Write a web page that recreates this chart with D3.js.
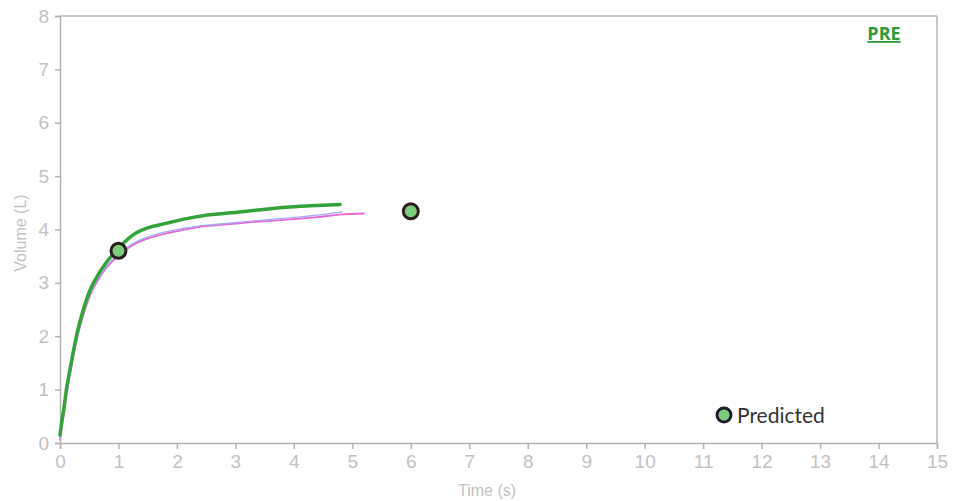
<!DOCTYPE html>
<html>
<head>
<meta charset="utf-8">
<script src="https://cdn.jsdelivr.net/npm/d3@7"></script>
<style>
  html, body { margin: 0; padding: 0; background: #fff; }
  svg { display: block; }
</style>
</head>
<body>
<svg id="chart" width="968" height="501"></svg>
<script>
// Volume–time curves of forced expiration
const xTicks = [0,1,2,3,4,5,6,7,8,9,10,11,12,13,14,15];
const yTicks = [0,1,2,3,4,5,6,7,8];

const greenTime = [0, 0.03, 0.06, 0.11, 0.2, 0.28, 0.4, 0.52, 0.65, 0.77, 0.91, 1.0, 1.1, 1.25, 1.5, 1.83, 2.1, 2.39, 2.8, 3.2, 3.6, 3.93, 4.4, 4.79];
const greenVol  = [0.15, 0.4, 0.6, 1.0, 1.55, 2.0, 2.5, 2.88, 3.15, 3.35, 3.54, 3.65, 3.76, 3.9, 4.03, 4.12, 4.19, 4.25, 4.3, 4.34, 4.39, 4.42, 4.45, 4.47];

const pinkTime = [0, 0.03, 0.06, 0.11, 0.2, 0.28, 0.4, 0.52, 0.65, 0.77, 0.91, 1.0, 1.1, 1.25, 1.5, 1.83, 2.1, 2.39, 2.8, 3.2, 3.6, 3.93, 4.4, 4.79, 5.21];
const pinkVol  = [0.05, 0.3, 0.5, 0.9, 1.45, 1.9, 2.4, 2.78, 3.05, 3.25, 3.42, 3.52, 3.6, 3.71, 3.83, 3.93, 3.99, 4.05, 4.09, 4.13, 4.16, 4.19, 4.23, 4.28, 4.30];

const blueTime = [0, 0.03, 0.06, 0.11, 0.2, 0.28, 0.4, 0.52, 0.65, 0.77, 0.91, 1.0, 1.1, 1.25, 1.5, 1.83, 2.1, 2.39, 2.8, 3.2, 3.6, 3.93, 4.4, 4.84];
const blueVol  = [0.08, 0.33, 0.53, 0.93, 1.48, 1.93, 2.43, 2.81, 3.08, 3.28, 3.45, 3.55, 3.63, 3.74, 3.86, 3.96, 4.02, 4.07, 4.11, 4.15, 4.19, 4.22, 4.27, 4.33];

const predictedTime = [1, 6];
const predictedVol  = [3.6, 4.34];

const W = 968, H = 501;
const margin = { left: 60, top: 16, right: 31, bottom: 58 };
const svg = d3.select("#chart");

const x = d3.scaleLinear().domain([0, 15]).range([margin.left, W - margin.right]);
const y = d3.scaleLinear().domain([0, 8]).range([H - margin.bottom, margin.top]);

const axisColor = "#b4b4b4";
const labelColor = "#c2c2c2";
const font = "'Liberation Sans', Arial, sans-serif";

// frame: top and right borders
svg.append("line").attr("x1", x(0)).attr("x2", x(15)).attr("y1", y(8)).attr("y2", y(8))
  .attr("stroke", axisColor).attr("stroke-width", 1.5);
svg.append("line").attr("x1", x(15)).attr("x2", x(15)).attr("y1", y(8)).attr("y2", y(0))
  .attr("stroke", axisColor).attr("stroke-width", 1.5);

// axes
const xAxis = svg.append("g").attr("transform", `translate(0,${y(0)})`)
  .call(d3.axisBottom(x).tickValues(xTicks).tickSize(6).tickPadding(6).tickFormat(d3.format("d")));
const yAxis = svg.append("g").attr("transform", `translate(${x(0)},0)`)
  .call(d3.axisLeft(y).tickValues(yTicks).tickSize(5).tickPadding(6).tickFormat(d3.format("d")));

[xAxis, yAxis].forEach(g => {
  g.select(".domain").attr("stroke", axisColor).attr("stroke-width", 1.5);
  g.selectAll(".tick line").attr("stroke", axisColor).attr("stroke-width", 1.5);
  g.selectAll(".tick text").attr("fill", labelColor).style("font-family", font).style("font-size", "19px");
});

// axis titles
svg.append("text").attr("transform", `translate(26,233) rotate(-90)`)
  .attr("text-anchor", "middle").attr("fill", labelColor)
  .style("font-family", font).style("font-size", "16px").text("Volume (L)");
svg.append("text").attr("x", 487).attr("y", 496)
  .attr("text-anchor", "middle").attr("fill", labelColor)
  .style("font-family", font).style("font-size", "16px").text("Time (s)");

// curves
const line = d3.line().x(d => x(d[0])).y(d => y(d[1])).curve(d3.curveMonotoneX);
const zip = (a, b) => a.map((v, i) => [v, b[i]]);

svg.append("path").datum(zip(pinkTime, pinkVol)).attr("d", line)
  .attr("fill", "none").attr("stroke", "#e46ad6").attr("stroke-width", 1.8);
svg.append("path").datum(zip(blueTime, blueVol)).attr("d", line)
  .attr("fill", "none").attr("stroke", "#a4a8f0").attr("stroke-width", 1.2);
svg.append("path").datum(zip(greenTime, greenVol)).attr("d", line)
  .attr("fill", "none").attr("stroke", "#33a33a").attr("stroke-width", 3.5)
  .attr("stroke-linecap", "round");

// predicted markers
svg.selectAll("circle.pred").data(zip(predictedTime, predictedVol)).join("circle")
  .attr("class", "pred")
  .attr("cx", d => x(d[0])).attr("cy", d => y(d[1])).attr("r", 7.5)
  .attr("fill", "#7ccc7c").attr("stroke", "#2b1d1d").attr("stroke-width", 3);

// legend
svg.append("circle").attr("cx", 724).attr("cy", 415).attr("r", 7)
  .attr("fill", "#7ccc7c").attr("stroke", "#1f1c30").attr("stroke-width", 3);
svg.append("text").attr("x", 737).attr("y", 423)
  .attr("fill", "#333").style("font-family", "Lato, 'Open Sans', sans-serif").style("font-size", "21px")
  .text("Predicted");

// session label
svg.append("text").attr("x", 884).attr("y", 40).attr("text-anchor", "middle")
  .attr("fill", "#2f9a38").style("font-family", "'Open Sans', sans-serif")
  .style("font-size", "18px").style("font-weight", "bold")
  .style("text-decoration", "underline").text("PRE");
</script>
</body>
</html>
